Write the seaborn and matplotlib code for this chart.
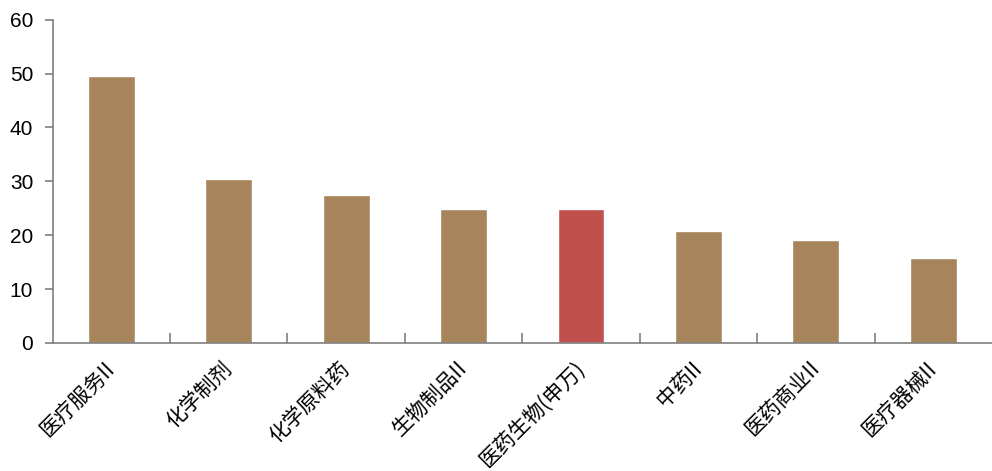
import numpy as np
import pandas as pd
import matplotlib
matplotlib.use("Agg")
import matplotlib.pyplot as plt
import seaborn as sns

# Data
categories = ["医疗服务II", "化学制剂", "化学原料药", "生物制品II", "医药生物(申万)",
              "中药II", "医药商业II", "医疗器械II"]
values = [49.6, 30.5, 27.5, 24.9, 24.8, 20.8, 19.1, 15.8]
highlight = "医药生物(申万)"

sns.set_theme(style="white")
plt.rcParams['font.family'] = ['Liberation Sans', 'Noto Sans CJK SC', 'DejaVu Sans']

brown = "#A6845C"
red = "#C0504D"
colors = [red if c == highlight else brown for c in categories]

df = pd.DataFrame({"category": categories, "value": values})

fig = plt.figure(figsize=(9.92, 4.71), dpi=100)
ax = fig.add_axes([0.053, 0.272, 0.947, 0.686])

sns.barplot(data=df, x="category", y="value", hue="category", palette=colors,
            width=0.4, legend=False, ax=ax, saturation=1)

ax.set_xlim(-0.5, len(categories) - 0.5)
ax.set_ylim(0, 60)
ax.set_yticks(np.arange(0, 61, 10))
ax.set_xlabel("")
ax.set_ylabel("")

for s in ["top", "right"]:
    ax.spines[s].set_visible(False)
for s in ["left", "bottom"]:
    ax.spines[s].set_color("#7f7f7f")
    ax.spines[s].set_linewidth(1.2)

ax.tick_params(axis="y", direction="out", length=6, color="#7f7f7f", width=1.2,
               labelsize=15, pad=8, left=True, labelcolor="black")
ax.set_xticks(range(len(categories)))
ax.set_xticklabels(categories, rotation=45, ha="right", va="center",
                   rotation_mode="anchor", fontsize=15, color="black",
                   family=['Noto Sans CJK SC', 'DejaVu Sans'])
ax.tick_params(axis="x", which="major", length=0, pad=16)
ax.set_xticks(np.arange(0.5, len(categories) - 0.5), minor=True)
ax.tick_params(axis="x", which="minor", direction="in", length=7, color="#7f7f7f",
               width=1.2, bottom=True)

plt.savefig("out.png", dpi=100)
plt.close()
